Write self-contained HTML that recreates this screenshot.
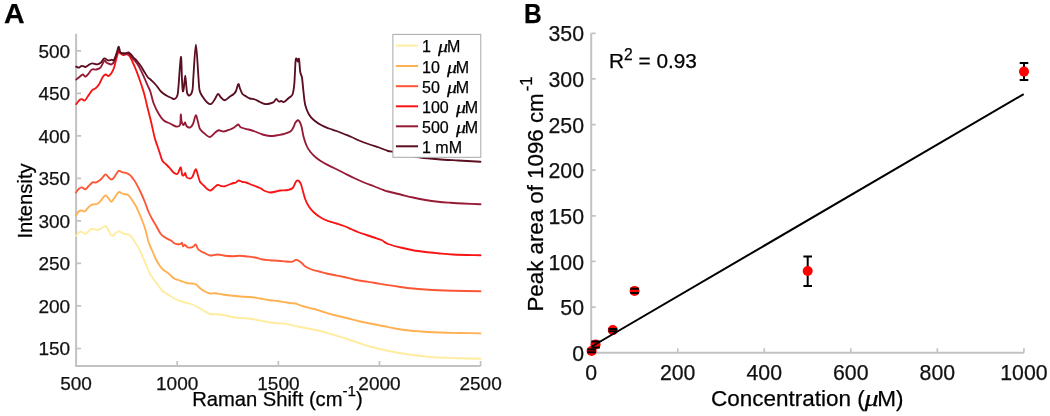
<!DOCTYPE html>
<html><head><meta charset="utf-8">
<style>
html,body{margin:0;padding:0;background:#fff;}
body{width:1050px;height:416px;position:relative;overflow:hidden;font-family:"Liberation Sans",sans-serif;color:#000;}
svg{position:absolute;left:0;top:0;}
.t{position:absolute;white-space:nowrap;line-height:1;filter:grayscale(1);-webkit-text-stroke:0.25px currentColor;}
.pl{font-weight:bold;font-size:28.5px;}
.ta{font-size:19px;color:#111;}
.tb{font-size:21.3px;color:#111;}
.r{text-align:right;}
.c{text-align:center;}
.lg{font-size:16px;}
.mu{font-family:"Liberation Serif",serif;font-style:italic;margin-left:3.5px;display:inline-block;transform:scaleX(1.25);}
sup{font-size:75%;line-height:0;position:relative;vertical-align:baseline;top:-0.64em;}
</style></head><body>
<svg width="1050" height="416" viewBox="0 0 1050 416">
<path d="M76.10 33.80 V365.90 H480.60" fill="none" stroke="#c2c2c2" stroke-width="2"/>
<path d="M76.10 348.49 h5 M76.10 305.96 h5 M76.10 263.44 h5 M76.10 220.91 h5 M76.10 178.39 h5 M76.10 135.86 h5 M76.10 93.34 h5 M76.10 50.81 h5 M177.22 365.90 v-5 M278.35 365.90 v-5 M379.48 365.90 v-5 M480.60 365.90 v-5" stroke="#c2c2c2" stroke-width="1.7" fill="none"/>
<path d="M76.00 236.00 C76.37 235.52 77.37 233.83 78.20 233.10 C79.03 232.37 79.80 231.48 81.00 231.60 C82.20 231.72 84.18 233.80 85.40 233.80 C86.62 233.80 87.35 232.40 88.30 231.60 C89.25 230.80 90.02 229.35 91.10 229.00 C92.18 228.65 93.58 229.35 94.80 229.50 C96.02 229.65 97.20 230.15 98.40 229.90 C99.60 229.65 100.93 228.62 102.00 228.00 C103.07 227.38 104.05 226.37 104.80 226.20 C105.55 226.03 105.88 226.33 106.50 227.00 C107.12 227.67 107.82 228.95 108.50 230.20 C109.18 231.45 109.88 233.58 110.60 234.50 C111.32 235.42 111.95 235.93 112.80 235.70 C113.65 235.47 114.75 233.83 115.70 233.10 C116.65 232.37 117.55 231.42 118.50 231.30 C119.45 231.18 120.43 231.98 121.40 232.40 C122.37 232.82 123.22 233.45 124.30 233.80 C125.38 234.15 126.82 234.13 127.90 234.50 C128.98 234.87 129.83 235.03 130.80 236.00 C131.77 236.97 132.83 238.98 133.70 240.30 C134.57 241.62 135.20 242.70 136.00 243.90 C136.80 245.10 137.46 245.53 138.50 247.50 C139.54 249.47 141.00 252.92 142.25 255.75 C143.50 258.58 144.75 261.58 146.00 264.50 C147.25 267.42 148.50 270.83 149.75 273.25 C151.00 275.67 152.04 276.92 153.50 279.00 C154.96 281.08 157.04 283.79 158.50 285.75 C159.96 287.71 161.00 289.50 162.25 290.75 C163.50 292.00 164.54 292.29 166.00 293.25 C167.46 294.21 169.33 295.46 171.00 296.50 C172.67 297.54 174.50 298.77 176.00 299.50 C177.50 300.23 178.50 300.40 180.00 300.90 C181.50 301.40 183.12 301.98 185.00 302.50 C186.88 303.02 189.17 303.25 191.25 304.00 C193.33 304.75 195.42 305.88 197.50 307.00 C199.58 308.12 201.67 309.58 203.75 310.75 C205.83 311.92 208.12 313.43 210.00 314.00 C211.88 314.57 213.33 314.12 215.00 314.20 C216.67 314.28 217.92 314.20 220.00 314.50 C222.08 314.80 225.00 315.50 227.50 316.00 C230.00 316.50 232.08 317.12 235.00 317.50 C237.92 317.88 241.67 317.92 245.00 318.25 C248.33 318.58 251.67 318.96 255.00 319.50 C258.33 320.04 261.67 320.92 265.00 321.50 C268.33 322.08 271.83 322.65 275.00 323.00 C278.17 323.35 280.42 323.06 284.00 323.60 C287.58 324.14 292.33 325.39 296.50 326.25 C300.67 327.11 304.83 327.92 309.00 328.75 C313.17 329.58 317.33 330.21 321.50 331.25 C325.67 332.29 329.83 333.75 334.00 335.00 C338.17 336.25 342.33 337.42 346.50 338.75 C350.67 340.08 354.83 341.62 359.00 343.00 C363.17 344.38 367.33 345.83 371.50 347.00 C375.67 348.17 379.83 349.08 384.00 350.00 C388.17 350.92 392.33 351.75 396.50 352.50 C400.67 353.25 404.83 353.92 409.00 354.50 C413.17 355.08 417.33 355.54 421.50 356.00 C425.67 356.46 429.83 356.96 434.00 357.25 C438.17 357.54 442.33 357.58 446.50 357.75 C450.67 357.92 453.33 358.08 459.00 358.25 C464.67 358.42 476.92 358.67 480.50 358.75" fill="none" stroke="#FFEC9E" stroke-width="1.85" stroke-linejoin="round" stroke-linecap="round"/>
<path d="M76.00 215.50 C76.48 214.78 77.93 212.03 78.90 211.20 C79.87 210.37 80.83 210.43 81.80 210.50 C82.77 210.57 83.75 211.97 84.70 211.60 C85.65 211.23 86.55 209.33 87.50 208.30 C88.45 207.27 89.43 206.05 90.40 205.40 C91.37 204.75 92.22 204.63 93.30 204.40 C94.38 204.17 95.82 204.43 96.90 204.00 C97.98 203.57 98.83 202.77 99.80 201.80 C100.77 200.83 101.73 199.28 102.70 198.20 C103.67 197.12 104.63 195.30 105.60 195.30 C106.57 195.30 107.55 197.12 108.50 198.20 C109.45 199.28 110.35 201.80 111.30 201.80 C112.25 201.80 113.23 199.52 114.20 198.20 C115.17 196.88 116.25 194.93 117.10 193.90 C117.95 192.87 118.45 192.07 119.30 192.00 C120.15 191.93 121.12 193.12 122.20 193.50 C123.28 193.88 124.73 194.00 125.80 194.30 C126.87 194.60 127.52 194.28 128.60 195.30 C129.68 196.32 131.07 198.58 132.30 200.40 C133.53 202.22 134.97 204.31 136.00 206.20 C137.03 208.09 137.46 209.37 138.50 211.75 C139.54 214.13 141.00 217.17 142.25 220.50 C143.50 223.83 144.96 228.17 146.00 231.75 C147.04 235.33 147.46 238.83 148.50 242.00 C149.54 245.17 151.00 247.83 152.25 250.75 C153.50 253.67 154.75 257.00 156.00 259.50 C157.25 262.00 158.50 264.00 159.75 265.75 C161.00 267.50 162.25 268.88 163.50 270.00 C164.75 271.12 166.00 271.54 167.25 272.50 C168.50 273.46 169.75 274.70 171.00 275.75 C172.25 276.80 173.50 278.09 174.75 278.80 C176.00 279.51 177.00 279.47 178.50 280.00 C180.00 280.53 182.25 281.46 183.75 282.00 C185.25 282.54 186.12 283.00 187.50 283.25 C188.88 283.50 190.54 283.29 192.00 283.50 C193.46 283.71 194.92 283.71 196.25 284.50 C197.58 285.29 198.54 287.08 200.00 288.25 C201.46 289.42 203.33 290.62 205.00 291.50 C206.67 292.38 208.33 293.21 210.00 293.50 C211.67 293.79 212.92 293.08 215.00 293.25 C217.08 293.42 220.00 294.12 222.50 294.50 C225.00 294.88 227.08 295.17 230.00 295.50 C232.92 295.83 236.67 296.25 240.00 296.50 C243.33 296.75 246.67 296.67 250.00 297.00 C253.33 297.33 256.67 297.96 260.00 298.50 C263.33 299.04 267.08 299.83 270.00 300.25 C272.92 300.67 275.17 300.68 277.50 301.00 C279.83 301.32 281.67 301.82 284.00 302.20 C286.33 302.57 289.50 303.03 291.50 303.25 C293.50 303.47 294.92 303.29 296.00 303.50 C297.08 303.71 296.67 304.00 298.00 304.50 C299.33 305.00 301.33 305.75 304.00 306.50 C306.67 307.25 311.08 308.21 314.00 309.00 C316.92 309.79 318.17 310.25 321.50 311.25 C324.83 312.25 329.83 313.88 334.00 315.00 C338.17 316.12 342.33 316.96 346.50 318.00 C350.67 319.04 354.83 320.29 359.00 321.25 C363.17 322.21 367.33 322.92 371.50 323.75 C375.67 324.58 379.83 325.42 384.00 326.25 C388.17 327.08 392.33 328.04 396.50 328.75 C400.67 329.46 404.83 330.04 409.00 330.50 C413.17 330.96 417.33 331.21 421.50 331.50 C425.67 331.79 429.83 332.04 434.00 332.25 C438.17 332.46 442.33 332.62 446.50 332.75 C450.67 332.88 453.33 332.89 459.00 333.00 C464.67 333.11 476.92 333.33 480.50 333.40" fill="none" stroke="#FFB050" stroke-width="1.85" stroke-linejoin="round" stroke-linecap="round"/>
<path d="M76.00 192.50 C76.48 191.88 77.93 189.65 78.90 188.80 C79.87 187.95 80.72 187.32 81.80 187.40 C82.88 187.48 84.20 189.58 85.40 189.30 C86.60 189.02 87.80 186.85 89.00 185.70 C90.20 184.55 91.40 182.95 92.60 182.40 C93.80 181.85 95.00 182.77 96.20 182.40 C97.40 182.03 98.72 181.05 99.80 180.20 C100.88 179.35 101.73 178.27 102.70 177.30 C103.67 176.33 104.63 174.40 105.60 174.40 C106.57 174.40 107.55 176.45 108.50 177.30 C109.45 178.15 110.35 179.50 111.30 179.50 C112.25 179.50 113.35 178.27 114.20 177.30 C115.05 176.33 115.63 174.78 116.40 173.70 C117.17 172.62 117.97 171.12 118.80 170.80 C119.63 170.48 120.48 171.48 121.40 171.80 C122.32 172.12 123.33 172.45 124.30 172.70 C125.27 172.95 126.23 172.90 127.20 173.30 C128.17 173.70 129.13 174.18 130.10 175.10 C131.07 176.02 132.02 177.47 133.00 178.80 C133.98 180.13 134.67 180.73 136.00 183.10 C137.33 185.47 139.54 189.89 141.00 193.00 C142.46 196.11 143.50 198.62 144.75 201.75 C146.00 204.88 147.25 208.83 148.50 211.75 C149.75 214.67 151.00 216.96 152.25 219.25 C153.50 221.54 154.54 223.00 156.00 225.50 C157.46 228.00 159.33 232.17 161.00 234.25 C162.67 236.33 164.33 236.96 166.00 238.00 C167.67 239.04 169.54 239.58 171.00 240.50 C172.46 241.42 173.25 242.88 174.75 243.50 C176.25 244.12 178.79 244.32 180.00 244.20 C181.21 244.08 181.50 242.45 182.00 242.80 C182.50 243.15 182.50 245.97 183.00 246.30 C183.50 246.63 184.25 244.63 185.00 244.80 C185.75 244.97 186.46 246.85 187.50 247.30 C188.54 247.75 190.25 247.63 191.25 247.50 C192.25 247.37 192.75 247.00 193.50 246.50 C194.25 246.00 195.00 244.08 195.75 244.50 C196.50 244.92 197.08 247.83 198.00 249.00 C198.92 250.17 200.08 250.79 201.25 251.50 C202.42 252.21 203.54 252.58 205.00 253.25 C206.46 253.92 207.92 255.29 210.00 255.50 C212.08 255.71 215.00 254.46 217.50 254.50 C220.00 254.54 222.50 255.46 225.00 255.75 C227.50 256.04 230.00 256.25 232.50 256.25 C235.00 256.25 237.50 255.71 240.00 255.75 C242.50 255.79 245.00 256.21 247.50 256.50 C250.00 256.79 252.50 257.00 255.00 257.50 C257.50 258.00 260.00 259.04 262.50 259.50 C265.00 259.96 267.50 260.04 270.00 260.25 C272.50 260.46 275.17 260.57 277.50 260.75 C279.83 260.93 281.67 261.12 284.00 261.30 C286.33 261.48 289.75 261.93 291.50 261.80 C293.25 261.67 293.67 260.83 294.50 260.50 C295.33 260.17 295.75 259.72 296.50 259.80 C297.25 259.88 298.08 260.43 299.00 261.00 C299.92 261.57 300.96 262.33 302.00 263.25 C303.04 264.17 303.67 265.46 305.25 266.50 C306.83 267.54 309.21 268.67 311.50 269.50 C313.79 270.33 316.50 270.83 319.00 271.50 C321.50 272.17 324.00 272.92 326.50 273.50 C329.00 274.08 331.08 274.42 334.00 275.00 C336.92 275.58 340.67 276.25 344.00 277.00 C347.33 277.75 350.67 278.79 354.00 279.50 C357.33 280.21 360.67 280.71 364.00 281.25 C367.33 281.79 370.00 282.09 374.00 282.75 C378.00 283.41 383.58 284.49 388.00 285.20 C392.42 285.91 396.33 286.45 400.50 287.00 C404.67 287.55 408.83 288.08 413.00 288.50 C417.17 288.92 421.33 289.21 425.50 289.50 C429.67 289.79 433.42 290.04 438.00 290.25 C442.58 290.46 445.92 290.58 453.00 290.75 C460.08 290.92 475.92 291.17 480.50 291.25" fill="none" stroke="#FC5634" stroke-width="1.85" stroke-linejoin="round" stroke-linecap="round"/>
<path d="M76.20 104.10 C76.80 103.38 78.85 100.63 79.80 99.80 C80.75 98.97 81.07 98.98 81.90 99.10 C82.73 99.22 83.72 101.10 84.80 100.50 C85.88 99.90 87.20 97.18 88.40 95.50 C89.60 93.82 90.80 91.62 92.00 90.40 C93.20 89.18 94.38 89.28 95.60 88.20 C96.82 87.12 98.08 85.82 99.30 83.90 C100.52 81.98 101.83 78.27 102.90 76.70 C103.97 75.13 104.75 74.62 105.70 74.50 C106.65 74.38 107.63 76.23 108.60 76.00 C109.57 75.77 110.58 74.52 111.50 73.10 C112.42 71.68 113.35 69.68 114.10 67.50 C114.85 65.32 115.37 62.29 116.00 60.00 C116.63 57.71 117.38 55.00 117.90 53.75 C118.42 52.50 118.58 52.50 119.10 52.50 C119.62 52.50 120.27 53.33 121.00 53.75 C121.73 54.17 122.57 54.89 123.50 55.00 C124.43 55.11 125.77 54.40 126.60 54.40 C127.43 54.40 127.87 54.48 128.50 55.00 C129.13 55.52 129.78 56.46 130.40 57.50 C131.03 58.54 131.53 59.68 132.25 61.25 C132.97 62.82 133.92 64.93 134.75 66.90 C135.58 68.88 136.42 70.92 137.25 73.10 C138.08 75.28 138.92 77.60 139.75 80.00 C140.58 82.40 141.46 85.00 142.25 87.50 C143.04 90.00 143.67 91.83 144.50 95.00 C145.33 98.17 146.17 102.08 147.25 106.50 C148.33 110.92 149.75 116.25 151.00 121.50 C152.25 126.75 153.71 134.00 154.75 138.00 C155.79 142.00 156.42 143.00 157.25 145.50 C158.08 148.00 158.92 150.50 159.75 153.00 C160.58 155.50 161.21 158.62 162.25 160.50 C163.29 162.38 164.75 163.00 166.00 164.25 C167.25 165.50 168.50 166.62 169.75 168.00 C171.00 169.38 172.25 171.50 173.50 172.50 C174.75 173.50 176.28 174.42 177.25 174.00 C178.22 173.58 178.69 171.08 179.30 170.00 C179.91 168.92 180.42 166.67 180.90 167.50 C181.38 168.33 181.68 173.75 182.20 175.00 C182.72 176.25 183.48 175.33 184.00 175.00 C184.52 174.67 184.88 172.67 185.30 173.00 C185.72 173.33 185.72 176.08 186.50 177.00 C187.28 177.92 189.00 178.54 190.00 178.50 C191.00 178.46 191.54 178.29 192.50 176.75 C193.46 175.21 194.83 169.46 195.75 169.25 C196.67 169.04 197.29 173.42 198.00 175.50 C198.71 177.58 199.04 180.08 200.00 181.75 C200.96 183.42 202.50 184.25 203.75 185.50 C205.00 186.75 206.38 188.42 207.50 189.25 C208.62 190.08 209.46 190.71 210.50 190.50 C211.54 190.29 212.58 188.92 213.75 188.00 C214.92 187.08 216.25 185.33 217.50 185.00 C218.75 184.67 220.00 185.79 221.25 186.00 C222.50 186.21 223.54 186.54 225.00 186.25 C226.46 185.96 228.54 184.79 230.00 184.25 C231.46 183.71 232.75 183.29 233.75 183.00 C234.75 182.71 235.21 182.92 236.00 182.50 C236.79 182.08 237.42 180.58 238.50 180.50 C239.58 180.42 241.21 181.67 242.50 182.00 C243.79 182.33 244.79 182.04 246.25 182.50 C247.71 182.96 249.79 184.17 251.25 184.75 C252.71 185.33 253.54 185.46 255.00 186.00 C256.46 186.54 258.33 187.17 260.00 188.00 C261.67 188.83 263.33 190.25 265.00 191.00 C266.67 191.75 268.33 192.38 270.00 192.50 C271.67 192.62 273.33 192.08 275.00 191.75 C276.67 191.42 278.50 190.74 280.00 190.50 C281.50 190.26 282.67 190.38 284.00 190.30 C285.33 190.22 286.54 190.38 288.00 190.00 C289.46 189.62 291.54 189.17 292.75 188.00 C293.96 186.83 294.54 184.25 295.25 183.00 C295.96 181.75 296.38 180.83 297.00 180.50 C297.62 180.17 298.33 180.38 299.00 181.00 C299.67 181.62 300.38 182.67 301.00 184.25 C301.62 185.83 302.04 188.00 302.75 190.50 C303.46 193.00 304.21 196.54 305.25 199.25 C306.29 201.96 307.54 204.54 309.00 206.75 C310.46 208.96 311.92 210.62 314.00 212.50 C316.08 214.38 319.00 216.54 321.50 218.00 C324.00 219.46 326.50 220.33 329.00 221.25 C331.50 222.17 334.00 222.71 336.50 223.50 C339.00 224.29 341.50 225.04 344.00 226.00 C346.50 226.96 349.00 228.17 351.50 229.25 C354.00 230.33 356.50 231.54 359.00 232.50 C361.50 233.46 364.00 234.17 366.50 235.00 C369.00 235.83 371.50 236.67 374.00 237.50 C376.50 238.33 379.17 238.92 381.50 240.00 C383.83 241.08 384.83 242.75 388.00 244.00 C391.17 245.25 396.33 246.46 400.50 247.50 C404.67 248.54 408.83 249.50 413.00 250.25 C417.17 251.00 421.33 251.50 425.50 252.00 C429.67 252.50 433.42 252.83 438.00 253.25 C442.58 253.67 445.92 254.17 453.00 254.50 C460.08 254.83 475.92 255.12 480.50 255.25" fill="none" stroke="#F81414" stroke-width="1.85" stroke-linejoin="round" stroke-linecap="round"/>
<path d="M76.20 79.60 C76.80 79.12 78.72 77.55 79.80 76.70 C80.88 75.85 81.75 74.50 82.70 74.50 C83.65 74.50 84.55 76.82 85.50 76.70 C86.45 76.58 87.32 75.00 88.40 73.80 C89.48 72.60 90.67 70.22 92.00 69.50 C93.33 68.78 94.95 69.87 96.40 69.50 C97.85 69.13 99.38 68.75 100.70 67.30 C102.02 65.85 103.33 61.60 104.30 60.80 C105.27 60.00 105.78 62.02 106.50 62.50 C107.22 62.98 107.77 63.38 108.60 63.70 C109.43 64.02 110.55 64.77 111.50 64.40 C112.45 64.03 113.34 63.48 114.30 61.50 C115.26 59.52 116.55 54.32 117.25 52.50 C117.95 50.68 117.97 50.60 118.50 50.60 C119.03 50.60 119.57 51.87 120.40 52.50 C121.23 53.13 122.36 54.23 123.50 54.40 C124.64 54.57 126.21 53.40 127.25 53.50 C128.29 53.60 128.92 54.23 129.75 55.00 C130.58 55.77 131.42 57.17 132.25 58.10 C133.08 59.03 133.92 59.66 134.75 60.60 C135.58 61.54 136.42 62.50 137.25 63.75 C138.08 65.00 138.92 66.54 139.75 68.10 C140.58 69.66 141.42 71.32 142.25 73.10 C143.08 74.88 143.79 76.56 144.75 78.75 C145.71 80.94 147.04 84.04 148.00 86.25 C148.96 88.46 149.58 89.21 150.50 92.00 C151.42 94.79 152.17 99.42 153.50 103.00 C154.83 106.58 156.83 110.62 158.50 113.50 C160.17 116.38 161.42 118.50 163.50 120.25 C165.58 122.00 168.92 122.96 171.00 124.00 C173.08 125.04 174.50 126.33 176.00 126.50 C177.50 126.67 179.20 127.00 180.00 125.00 C180.80 123.00 180.53 115.08 180.80 114.50 C181.07 113.92 181.15 119.75 181.60 121.50 C182.05 123.25 182.93 124.83 183.50 125.00 C184.07 125.17 184.50 122.33 185.00 122.50 C185.50 122.67 185.67 125.17 186.50 126.00 C187.33 126.83 188.92 127.83 190.00 127.50 C191.08 127.17 192.04 126.04 193.00 124.00 C193.96 121.96 194.92 115.58 195.75 115.25 C196.58 114.92 197.29 119.71 198.00 122.00 C198.71 124.29 198.83 127.00 200.00 129.00 C201.17 131.00 203.33 132.67 205.00 134.00 C206.67 135.33 208.33 137.21 210.00 137.00 C211.67 136.79 213.54 133.88 215.00 132.75 C216.46 131.62 217.29 130.46 218.75 130.25 C220.21 130.04 221.88 131.62 223.75 131.50 C225.62 131.38 228.33 130.12 230.00 129.50 C231.67 128.88 232.38 128.58 233.75 127.75 C235.12 126.92 237.04 124.54 238.25 124.50 C239.46 124.46 239.25 126.67 241.00 127.50 C242.75 128.33 246.42 128.83 248.75 129.50 C251.08 130.17 252.71 130.67 255.00 131.50 C257.29 132.33 260.00 133.75 262.50 134.50 C265.00 135.25 267.50 135.88 270.00 136.00 C272.50 136.12 275.17 135.58 277.50 135.25 C279.83 134.92 281.75 134.71 284.00 134.00 C286.25 133.29 289.33 132.33 291.00 131.00 C292.67 129.67 293.29 127.38 294.00 126.00 C294.71 124.62 294.62 123.71 295.25 122.75 C295.88 121.79 297.04 120.46 297.75 120.25 C298.46 120.04 298.88 120.46 299.50 121.50 C300.12 122.54 300.83 124.00 301.50 126.50 C302.17 129.00 302.67 133.33 303.50 136.50 C304.33 139.67 305.38 142.96 306.50 145.50 C307.62 148.04 308.58 149.67 310.25 151.75 C311.92 153.83 314.21 156.12 316.50 158.00 C318.79 159.88 321.08 161.33 324.00 163.00 C326.92 164.67 330.67 166.33 334.00 168.00 C337.33 169.67 340.67 171.33 344.00 173.00 C347.33 174.67 350.67 176.42 354.00 178.00 C357.33 179.58 360.67 181.12 364.00 182.50 C367.33 183.88 371.08 185.12 374.00 186.25 C376.92 187.38 379.17 188.38 381.50 189.25 C383.83 190.12 384.83 190.62 388.00 191.50 C391.17 192.38 396.33 193.50 400.50 194.50 C404.67 195.50 408.83 196.58 413.00 197.50 C417.17 198.42 421.33 199.29 425.50 200.00 C429.67 200.71 433.83 201.29 438.00 201.75 C442.17 202.21 446.33 202.46 450.50 202.75 C454.67 203.04 458.00 203.25 463.00 203.50 C468.00 203.75 477.58 204.12 480.50 204.25" fill="none" stroke="#961A36" stroke-width="1.85" stroke-linejoin="round" stroke-linecap="round"/>
<path d="M76.20 66.60 C76.67 66.77 78.05 67.72 79.00 67.60 C79.95 67.48 80.82 66.00 81.90 65.90 C82.98 65.80 84.42 67.12 85.50 67.00 C86.58 66.88 87.32 65.80 88.40 65.20 C89.48 64.60 90.55 63.53 92.00 63.40 C93.45 63.27 95.65 64.52 97.10 64.40 C98.55 64.28 99.50 63.70 100.70 62.70 C101.90 61.70 103.10 58.78 104.30 58.40 C105.50 58.02 106.70 60.17 107.90 60.40 C109.10 60.63 110.48 59.90 111.50 59.80 C112.52 59.70 113.15 60.92 114.00 59.80 C114.85 58.68 115.85 55.25 116.60 53.10 C117.35 50.95 118.02 47.52 118.50 46.90 C118.98 46.28 119.18 48.47 119.50 49.40 C119.82 50.33 119.83 51.88 120.40 52.50 C120.97 53.12 121.97 53.00 122.90 53.10 C123.83 53.20 125.07 53.20 126.00 53.10 C126.93 53.00 127.67 52.28 128.50 52.50 C129.33 52.72 130.17 53.57 131.00 54.40 C131.83 55.23 132.46 56.36 133.50 57.50 C134.54 58.64 136.00 59.79 137.25 61.25 C138.50 62.71 139.75 64.38 141.00 66.25 C142.25 68.12 143.58 70.62 144.75 72.50 C145.92 74.38 146.96 76.25 148.00 77.50 C149.04 78.75 149.67 78.75 151.00 80.00 C152.33 81.25 154.33 83.08 156.00 85.00 C157.67 86.92 159.33 89.79 161.00 91.50 C162.67 93.21 164.33 94.21 166.00 95.25 C167.67 96.29 169.54 97.12 171.00 97.75 C172.46 98.38 173.67 99.46 174.75 99.00 C175.83 98.54 176.86 97.33 177.50 95.00 C178.14 92.67 178.03 91.35 178.60 85.00 C179.17 78.65 180.33 57.73 180.90 56.90 C181.47 56.07 181.68 74.32 182.00 80.00 C182.32 85.68 182.50 89.67 182.80 91.00 C183.10 92.33 183.39 90.57 183.80 88.00 C184.21 85.43 184.80 75.60 185.25 75.60 C185.70 75.60 186.12 84.93 186.50 88.00 C186.88 91.07 186.92 92.79 187.50 94.00 C188.08 95.21 189.17 95.92 190.00 95.25 C190.83 94.58 191.92 93.38 192.50 90.00 C193.08 86.62 192.93 82.54 193.50 75.00 C194.07 67.46 195.10 44.75 195.90 44.75 C196.70 44.75 197.70 67.46 198.30 75.00 C198.90 82.54 198.80 86.42 199.50 90.00 C200.20 93.58 201.17 94.38 202.50 96.50 C203.83 98.62 206.04 101.50 207.50 102.75 C208.96 104.00 210.00 104.62 211.25 104.00 C212.50 103.38 213.88 100.67 215.00 99.00 C216.12 97.33 216.96 94.21 218.00 94.00 C219.04 93.79 220.08 96.71 221.25 97.75 C222.42 98.79 223.54 100.46 225.00 100.25 C226.46 100.04 228.54 97.54 230.00 96.50 C231.46 95.46 232.75 94.92 233.75 94.00 C234.75 93.08 235.25 92.67 236.00 91.00 C236.75 89.33 237.55 84.33 238.25 84.00 C238.95 83.67 239.49 87.33 240.20 89.00 C240.91 90.67 241.49 92.75 242.50 94.00 C243.51 95.25 245.00 95.75 246.25 96.50 C247.50 97.25 248.54 98.00 250.00 98.50 C251.46 99.00 253.33 98.92 255.00 99.50 C256.67 100.08 258.33 101.25 260.00 102.00 C261.67 102.75 263.33 103.75 265.00 104.00 C266.67 104.25 268.54 103.83 270.00 103.50 C271.46 103.17 272.71 102.75 273.75 102.00 C274.79 101.25 275.42 99.08 276.25 99.00 C277.08 98.92 277.92 101.17 278.75 101.50 C279.58 101.83 280.38 100.92 281.25 101.00 C282.12 101.08 282.71 102.54 284.00 102.00 C285.29 101.46 287.58 99.00 289.00 97.75 C290.42 96.50 291.62 96.79 292.50 94.50 C293.38 92.21 293.80 89.42 294.30 84.00 C294.80 78.58 295.13 66.25 295.50 62.00 C295.87 57.75 296.12 58.58 296.50 58.50 C296.88 58.42 297.33 61.42 297.75 61.50 C298.17 61.58 298.58 57.25 299.00 59.00 C299.42 60.75 299.75 68.88 300.25 72.00 C300.75 75.12 301.46 74.42 302.00 77.75 C302.54 81.08 302.96 87.46 303.50 92.00 C304.04 96.54 304.33 101.25 305.25 105.00 C306.17 108.75 307.54 111.96 309.00 114.50 C310.46 117.04 311.92 118.46 314.00 120.25 C316.08 122.04 319.00 123.88 321.50 125.25 C324.00 126.62 326.50 127.54 329.00 128.50 C331.50 129.46 334.00 130.08 336.50 131.00 C339.00 131.92 341.50 133.00 344.00 134.00 C346.50 135.00 349.00 135.92 351.50 137.00 C354.00 138.08 356.08 139.29 359.00 140.50 C361.92 141.71 365.67 143.08 369.00 144.25 C372.33 145.42 375.83 146.38 379.00 147.50 C382.17 148.62 385.67 150.29 388.00 151.00 C390.33 151.71 390.17 151.17 393.00 151.75 C395.83 152.33 400.42 153.54 405.00 154.50 C409.58 155.46 415.00 156.71 420.50 157.50 C426.00 158.29 431.75 158.75 438.00 159.25 C444.25 159.75 450.92 160.08 458.00 160.50 C465.08 160.92 476.75 161.54 480.50 161.75" fill="none" stroke="#5A0E20" stroke-width="1.85" stroke-linejoin="round" stroke-linecap="round"/>
<rect x="392.9" y="34.4" width="87.90" height="122.90" fill="#fff" stroke="#a8a8a8" stroke-width="1"/>
<line x1="395.9" y1="45.6" x2="418.1" y2="45.6" stroke="#FFEC9E" stroke-width="2"/>
<line x1="395.9" y1="66.0" x2="418.1" y2="66.0" stroke="#FFB050" stroke-width="2"/>
<line x1="395.9" y1="86.2" x2="418.1" y2="86.2" stroke="#FC5634" stroke-width="2"/>
<line x1="395.9" y1="106.3" x2="418.1" y2="106.3" stroke="#F81414" stroke-width="2"/>
<line x1="395.9" y1="126.3" x2="418.1" y2="126.3" stroke="#961A36" stroke-width="2"/>
<line x1="395.9" y1="146.3" x2="418.1" y2="146.3" stroke="#5A0E20" stroke-width="2"/>
<path d="M591.20 33.30 V352.70 H1023.90" fill="none" stroke="#c2c2c2" stroke-width="2"/>
<path d="M591.20 307.07 h4.5 M591.20 261.44 h4.5 M591.20 215.81 h4.5 M591.20 170.19 h4.5 M591.20 124.56 h4.5 M591.20 78.93 h4.5 M591.20 33.30 h4.5 M677.74 352.70 v-4.5 M764.28 352.70 v-4.5 M850.82 352.70 v-4.5 M937.36 352.70 v-4.5 M1023.90 352.70 v-4.5" stroke="#c2c2c2" stroke-width="1.7" fill="none"/>
<line x1="591.6" y1="349.4" x2="591.6" y2="352.3" stroke="#000" stroke-width="2"/>
<line x1="595.6" y1="341.6" x2="595.6" y2="347.4" stroke="#000" stroke-width="2"/>
<line x1="612.8" y1="329.0" x2="612.8" y2="331.2" stroke="#000" stroke-width="2"/>
<line x1="634.6" y1="288.8" x2="634.6" y2="292.9" stroke="#000" stroke-width="2"/>
<line x1="807.7" y1="256.5" x2="807.7" y2="285.9" stroke="#000" stroke-width="2"/>
<line x1="1024.0" y1="63.0" x2="1024.0" y2="80.0" stroke="#000" stroke-width="2"/>
<circle cx="591.6" cy="351.0" r="5" fill="#ff0000"/>
<circle cx="595.6" cy="344.5" r="5" fill="#ff0000"/>
<circle cx="612.8" cy="330.1" r="5" fill="#ff0000"/>
<circle cx="634.6" cy="290.9" r="5" fill="#ff0000"/>
<circle cx="807.7" cy="271.0" r="5" fill="#ff0000"/>
<circle cx="1024.0" cy="71.6" r="5" fill="#ff0000"/>
<path d="M587.30 349.4 h8.6 M587.30 352.3 h8.6" stroke="#000" stroke-width="2"/>
<path d="M591.30 341.6 h8.6 M591.30 347.4 h8.6" stroke="#000" stroke-width="2"/>
<path d="M608.50 329.0 h8.6 M608.50 331.2 h8.6" stroke="#000" stroke-width="2"/>
<path d="M630.30 288.8 h8.6 M630.30 292.9 h8.6" stroke="#000" stroke-width="2"/>
<path d="M803.40 256.5 h8.6 M803.40 285.9 h8.6" stroke="#000" stroke-width="2"/>
<path d="M1019.70 63.0 h8.6 M1019.70 80.0 h8.6" stroke="#000" stroke-width="2"/>
<line x1="591.7" y1="346.5" x2="1023.7" y2="94.1" stroke="#000" stroke-width="2"/>
</svg>
<div class="t pl" style="left:4px;top:-0.8px;">A</div>
<div class="t pl" style="left:523.5px;top:-0.8px;transform:scaleX(0.86);transform-origin:0 0;">B</div>
<div class="t ta r" style="right:979.9px;top:339.4px;">150</div>
<div class="t ta r" style="right:979.9px;top:296.9px;">200</div>
<div class="t ta r" style="right:979.9px;top:254.3px;">250</div>
<div class="t ta r" style="right:979.9px;top:211.8px;">300</div>
<div class="t ta r" style="right:979.9px;top:169.3px;">350</div>
<div class="t ta r" style="right:979.9px;top:126.8px;">400</div>
<div class="t ta r" style="right:979.9px;top:84.2px;">450</div>
<div class="t ta r" style="right:979.9px;top:41.7px;">500</div>
<div class="t ta c" style="left:36.1px;width:80px;top:373.5px;">500</div>
<div class="t ta c" style="left:137.2px;width:80px;top:373.5px;">1000</div>
<div class="t ta c" style="left:238.4px;width:80px;top:373.5px;">1500</div>
<div class="t ta c" style="left:339.5px;width:80px;top:373.5px;">2000</div>
<div class="t ta c" style="left:440.6px;width:80px;top:373.5px;">2500</div>
<div class="t tb r" style="right:466.0px;top:343.8px;">0</div>
<div class="t tb r" style="right:466.0px;top:298.2px;">50</div>
<div class="t tb r" style="right:466.0px;top:252.5px;">100</div>
<div class="t tb r" style="right:466.0px;top:206.9px;">150</div>
<div class="t tb r" style="right:466.0px;top:161.3px;">200</div>
<div class="t tb r" style="right:466.0px;top:115.7px;">250</div>
<div class="t tb r" style="right:466.0px;top:70.0px;">300</div>
<div class="t tb r" style="right:466.0px;top:24.4px;">350</div>
<div class="t tb c" style="left:551.2px;width:80px;top:362.8px;">0</div>
<div class="t tb c" style="left:637.7px;width:80px;top:362.8px;">200</div>
<div class="t tb c" style="left:724.3px;width:80px;top:362.8px;">400</div>
<div class="t tb c" style="left:810.8px;width:80px;top:362.8px;">600</div>
<div class="t tb c" style="left:897.4px;width:80px;top:362.8px;">800</div>
<div class="t tb c" style="left:983.9px;width:80px;top:362.8px;">1000</div>
<div class="t" style="font-size:20.2px;left:192.2px;top:389.1px;">Raman Shift (cm<sup>-1</sup>)</div>
<div class="t" style="font-size:20.2px;left:25.4px;top:200.6px;transform:translate(-50%,-50%) rotate(-90deg);">Intensity</div>
<div class="t" style="font-size:22.5px;left:711px;top:388px;">Concentration (<span class="mu" style="margin-left:1px">&#956;</span>M)</div>
<div class="t" style="font-size:22.3px;left:536px;top:193.5px;transform:translate(-50%,-50%) rotate(-90deg);">Peak area of 1096 cm<sup style="margin-left:2px">-1</sup></div>
<div class="t" style="font-size:20.8px;left:609px;top:51px;">R<sup style="top:-0.5em">2</sup> = 0.93</div>
<div class="t lg" style="left:422px;top:39.2px;">1 <span class="mu">&#956;</span>M</div>
<div class="t lg" style="left:422px;top:59.6px;">10 <span class="mu">&#956;</span>M</div>
<div class="t lg" style="left:422px;top:79.8px;">50 <span class="mu">&#956;</span>M</div>
<div class="t lg" style="left:422px;top:99.9px;">100 <span class="mu">&#956;</span>M</div>
<div class="t lg" style="left:422px;top:119.9px;">500 <span class="mu">&#956;</span>M</div>
<div class="t lg" style="left:422px;top:139.9px;">1 mM</div>
</body></html>
